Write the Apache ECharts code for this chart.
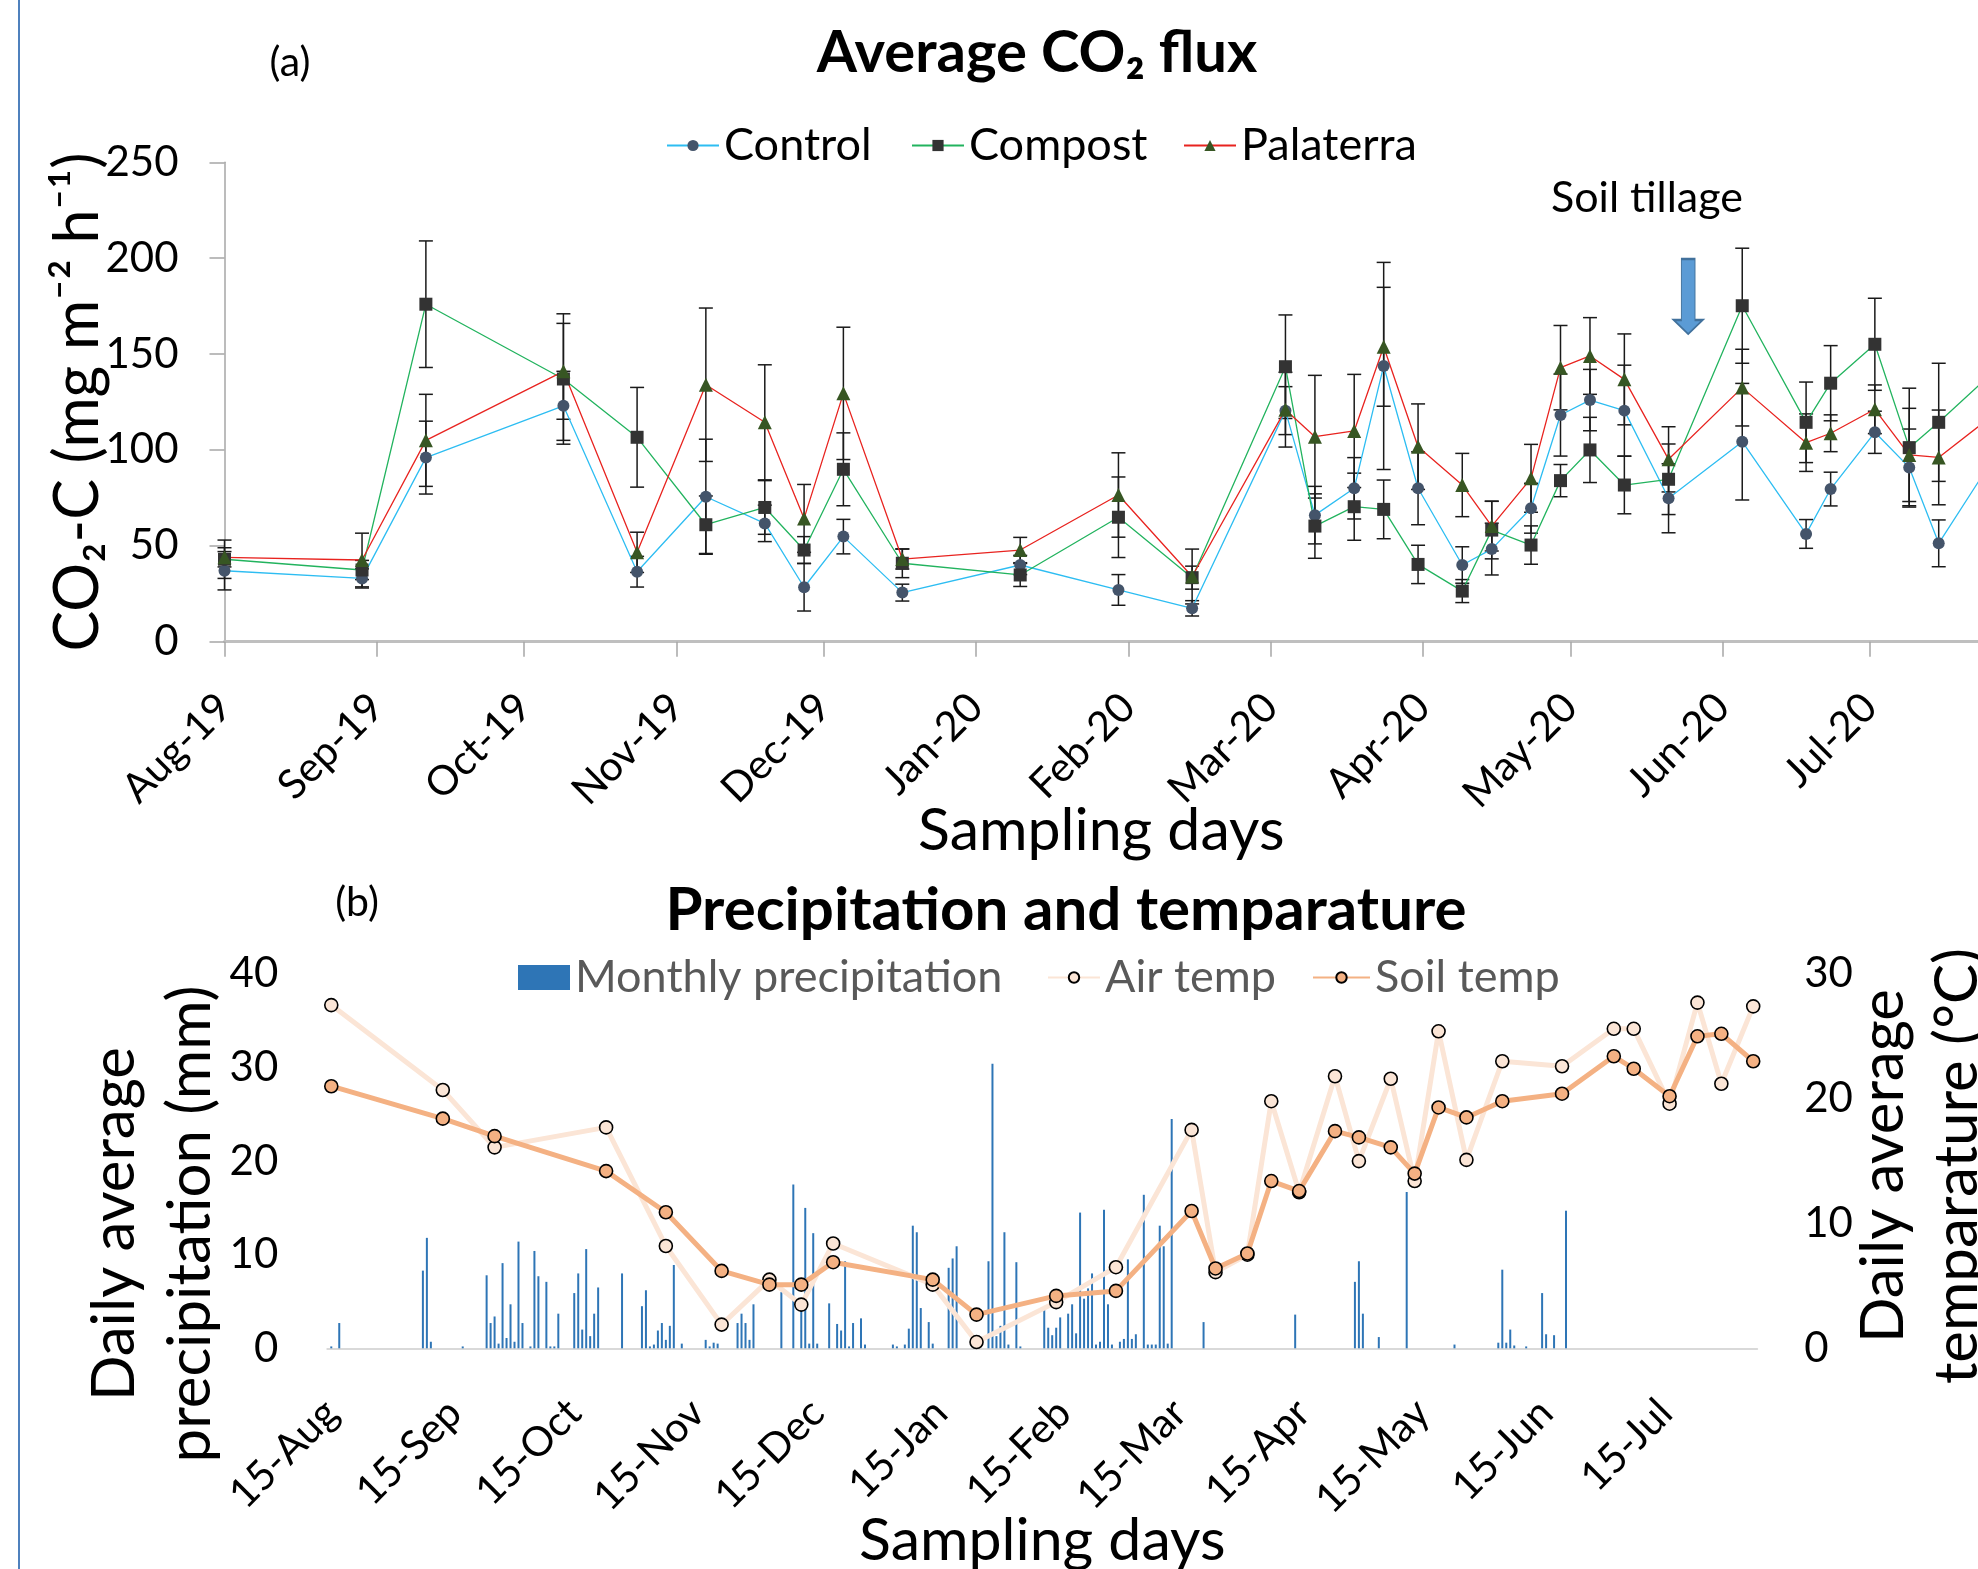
<!DOCTYPE html>
<html>
<head>
<meta charset="utf-8">
<script src="https://cdn.jsdelivr.net/npm/echarts/dist/echarts.min.js"></script>
<style>
html,body{margin:0;padding:0;background:#fff;}
#chart{width:1978px;height:1569px;}
</style>
</head>
<body>
<div id="chart"></div>
<script>
// ---------------- (a) Average CO2 flux ----------------
const fluxDates = ['2019-08-15','2019-09-12','2019-09-25','2019-10-23','2019-11-07','2019-11-21','2019-12-03','2019-12-11','2019-12-19','2019-12-31','2020-01-24','2020-02-13','2020-02-28','2020-03-18','2020-03-24','2020-04-01','2020-04-07','2020-04-14','2020-04-23','2020-04-29','2020-05-07','2020-05-13','2020-05-19','2020-05-26','2020-06-04','2020-06-19','2020-07-02','2020-07-07','2020-07-16','2020-07-23','2020-07-29','2020-08-08'];
const control      = [37, 33, 96, 123, 36.5, 75.6, 61.7, 28.4, 54.8, 25.6, 40, 27, 17.4, 120.5, 66, 80, 143.8, 80, 40, 48.3, 69.6, 118.2, 126, 120.5, 74.8, 104.3, 56.2, 79.6, 109.2, 90.9, 51.3, 91];
const controlErr   = [10, 5, 19, 18, 8, 30, 9.5, 12.4, 9, 4.4, 5, 8, 4, 12.5, 15, 16, 54, 19, 9.5, 13.5, 13, 21.4, 16, 23.7, 18, 30.4, 7.5, 8.8, 11, 20, 12.2, 12];
const compost      = [43, 37.4, 176, 137, 106.6, 61, 70, 47.8, 89.9, 40.9, 34.8, 64.9, 33.4, 143.4, 60.3, 70.4, 69, 40.3, 26.4, 58.2, 50.4, 84, 100, 81.7, 84.7, 175.2, 114.4, 134.8, 155.1, 101.2, 114.4, 138];
const compostErr   = [10, 5, 33, 34, 26, 15, 14, 7, 19, 7.5, 6, 21, 6, 27, 16.8, 17.5, 15.3, 10, 6, 15, 10, 8.4, 17, 15, 18.4, 30, 21, 19.6, 24, 31, 30.8, 20];
const palaterra    = [44, 42.6, 105, 141, 46.6, 134, 114.4, 64.3, 129.5, 43.1, 47.8, 76.5, 34, 121, 106.9, 109.9, 153.8, 101.7, 81.7, 60.3, 85.2, 142.9, 149, 136.8, 95.1, 132.5, 103.8, 108.7, 121.2, 97.4, 96.1, 116];
const palaterraErr = [5, 14, 24, 25, 10.5, 40, 30, 17.7, 34.5, 5.2, 6.6, 22, 14.3, 19.5, 32, 29.5, 31, 22.3, 16.5, 13, 17.7, 22, 20, 23.7, 17, 20, 15, 9.6, 12.7, 24.3, 24.7, 15];
const fluxTickDates  = ['2019-08-15','2019-09-15','2019-10-15','2019-11-15','2019-12-15','2020-01-15','2020-02-15','2020-03-15','2020-04-15','2020-05-15','2020-06-15','2020-07-15'];
const fluxTickLabels = ['Aug-19','Sep-19','Oct-19','Nov-19','Dec-19','Jan-20','Feb-20','Mar-20','Apr-20','May-20','Jun-20','Jul-20'];
const fluxYTicks = [0, 50, 100, 150, 200, 250];
const tillageDate = '2020-06-08';
const tillageLevel = 180;

// ---------------- (b) Precipitation and temperature ----------------
const tempDates = ['2019-08-15','2019-09-12','2019-09-25','2019-10-23','2019-11-07','2019-11-21','2019-12-03','2019-12-11','2019-12-19','2020-01-13','2020-01-24','2020-02-13','2020-02-28','2020-03-18','2020-03-24','2020-04-01','2020-04-07','2020-04-14','2020-04-23','2020-04-29','2020-05-07','2020-05-13','2020-05-19','2020-05-26','2020-06-04','2020-06-19','2020-07-02','2020-07-07','2020-07-16','2020-07-23','2020-07-29','2020-08-06'];
const airTemp  = [27.5, 20.7, 16.1, 17.7, 8.2, 1.9, 5.5, 3.5, 8.4, 5.1, 0.5, 3.7, 6.5, 17.5, 6.1, 7.5, 19.8, 12.5, 21.8, 15.0, 21.6, 13.4, 25.4, 15.1, 23.0, 22.6, 25.6, 25.6, 19.6, 27.7, 21.2, 27.4];
const soilTemp = [21.0, 18.4, 17.0, 14.2, 10.9, 6.2, 5.1, 5.1, 6.9, 5.5, 2.7, 4.2, 4.6, 11.0, 6.4, 7.6, 13.4, 12.6, 17.4, 16.9, 16.1, 14.0, 19.3, 18.5, 19.8, 20.4, 23.4, 22.4, 20.2, 25.0, 25.2, 23.0];
const rainDates = [
 '2019-08-15','2019-08-17',
 '2019-09-07','2019-09-08','2019-09-09','2019-09-17','2019-09-23','2019-09-24','2019-09-25','2019-09-26','2019-09-27','2019-09-28','2019-09-29','2019-09-30',
 '2019-10-01','2019-10-02','2019-10-04','2019-10-05','2019-10-06','2019-10-08','2019-10-09','2019-10-10','2019-10-11','2019-10-15','2019-10-16','2019-10-17','2019-10-18','2019-10-19','2019-10-20','2019-10-21','2019-10-27',
 '2019-11-01','2019-11-02','2019-11-03','2019-11-04','2019-11-05','2019-11-06','2019-11-07','2019-11-08','2019-11-09','2019-11-11','2019-11-17','2019-11-18','2019-11-19','2019-11-20','2019-11-25','2019-11-26','2019-11-27','2019-11-28','2019-11-29',
 '2019-12-06','2019-12-09','2019-12-11','2019-12-12','2019-12-13','2019-12-14','2019-12-15','2019-12-18','2019-12-20','2019-12-21','2019-12-22','2019-12-23','2019-12-24','2019-12-26','2019-12-27',
 '2020-01-03','2020-01-04','2020-01-06','2020-01-07','2020-01-08','2020-01-09','2020-01-10','2020-01-12','2020-01-13','2020-01-17','2020-01-18','2020-01-19','2020-01-27','2020-01-28','2020-01-29','2020-01-30','2020-01-31',
 '2020-02-01','2020-02-03','2020-02-04','2020-02-10','2020-02-11','2020-02-12','2020-02-13','2020-02-14','2020-02-16','2020-02-17','2020-02-18','2020-02-19','2020-02-20','2020-02-21','2020-02-22','2020-02-23','2020-02-24','2020-02-25','2020-02-26','2020-02-27','2020-02-29',
 '2020-03-01','2020-03-02','2020-03-03','2020-03-04','2020-03-06','2020-03-07','2020-03-08','2020-03-09','2020-03-10','2020-03-11','2020-03-12','2020-03-13','2020-03-21',
 '2020-04-13','2020-04-28','2020-04-29','2020-04-30',
 '2020-05-04','2020-05-11','2020-05-23',
 '2020-06-03','2020-06-04','2020-06-05','2020-06-06','2020-06-07','2020-06-10','2020-06-14','2020-06-15','2020-06-17','2020-06-20'];
const rainMm = [
 0.2, 2.7,
 8.3, 11.8, 0.7, 0.2, 7.8, 2.7, 3.4, 0.5, 9.1, 1.1, 4.7, 0.7,
 11.4, 2.7, 0.2, 10.4, 7.7, 7.1, 0.2, 0.2, 3.7, 5.9, 8.0, 2.0, 10.6, 1.3, 3.7, 6.5, 8.0,
 4.5, 6.2, 0.2, 0.4, 1.9, 2.7, 0.9, 2.4, 8.9, 0.5, 0.9, 0.2, 0.6, 0.5, 2.7, 3.7, 2.7, 0.9, 4.7,
 6.0, 17.5, 5.1, 15.0, 0.5, 12.3, 0.5, 4.8, 2.6, 1.9, 9.3, 0.2, 2.7, 3.2, 0.4,
 0.4, 0.2, 0.4, 2.1, 13.1, 12.4, 4.3, 2.8, 0.5, 8.6, 9.6, 10.9, 9.3, 30.4, 1.3, 2.4, 12.4,
 0.4, 9.2, 0.2, 4.1, 2.2, 1.4, 2.2, 3.3, 3.7, 4.7, 1.6, 14.5, 5.3, 6.4, 8.0, 0.4, 0.7, 14.8, 4.7, 0.4, 0.7,
 1.0, 9.5, 1.0, 1.5, 16.4, 0.4, 0.4, 0.4, 13.1, 10.9, 0.5, 24.5, 2.8,
 3.6, 7.1, 9.3, 3.7,
 1.2, 16.7, 0.4,
 0.6, 8.4, 0.6, 2.0, 0.3, 0.2, 5.9, 1.5, 1.4, 14.7];
const climTickDates  = ['2019-08-15','2019-09-15','2019-10-15','2019-11-15','2019-12-15','2020-01-15','2020-02-15','2020-03-15','2020-04-15','2020-05-15','2020-06-15','2020-07-15'];
const climTickLabels = ['15-Aug','15-Sep','15-Oct','15-Nov','15-Dec','15-Jan','15-Feb','15-Mar','15-Apr','15-May','15-Jun','15-Jul'];

// ---------------- helpers ----------------
const DAY = 86400000;
function ts(s) { const p = s.split('-').map(Number); return Date.UTC(p[0], p[1] - 1, p[2]); }
const FONT = 'Lato, "Noto Sans", "DejaVu Sans", sans-serif';
function labelFor(dates, labels) {
  const vals = dates.map(ts);
  return function (v) {
    for (let i = 0; i < vals.length; i++) { if (Math.abs(vals[i] - v) < DAY / 2) return labels[i]; }
    return '';
  };
}
function pairs(dates, vals) { return dates.map((d, i) => [ts(d), vals[i]]); }
function errData(dates, vals, errs) { return dates.map((d, i) => [ts(d), vals[i] - errs[i], vals[i] + errs[i]]); }
function errRender(params, api) {
  const x = api.value(0);
  const lo = api.coord([x, api.value(1)]);
  const hi = api.coord([x, api.value(2)]);
  const w = 7;
  const st = { stroke: '#1a1a1a', lineWidth: 1.5 };
  return { type: 'group', children: [
    { type: 'line', shape: { x1: hi[0], y1: hi[1], x2: lo[0], y2: lo[1] }, style: st },
    { type: 'line', shape: { x1: hi[0] - w, y1: hi[1], x2: hi[0] + w, y2: hi[1] }, style: st },
    { type: 'line', shape: { x1: lo[0] - w, y1: lo[1], x2: lo[0] + w, y2: lo[1] }, style: st }
  ]};
}
function errSeries(name, dates, vals, errs) {
  return { name: name, type: 'custom', xAxisIndex: 0, yAxisIndex: 0, z: 1, silent: true,
    renderItem: errRender, encode: { x: 0, y: [1, 2] }, data: errData(dates, vals, errs) };
}
function legendAt(name, left, top, w, h, size, color, icon) {
  return { data: [icon ? { name: name, icon: icon } : name], left: left, top: top, padding: 0,
    itemWidth: w, itemHeight: h, textStyle: { fontSize: size, color: color, fontFamily: FONT } };
}

const chart = echarts.init(document.getElementById('chart'), null, { renderer: 'canvas' });

const option = {
  animation: false,
  backgroundColor: '#ffffff',
  textStyle: { fontFamily: FONT },
  grid: [
    { left: 224.5, right: 0, top: 162.3, bottom: 927.3, containLabel: false, outerBoundsMode: 'none' },
    { left: 327.3, right: 220.8, top: 973.9, bottom: 220.7, containLabel: false, outerBoundsMode: 'none' }
  ],
  legend: [
    legendAt('Control', 666, 123, 52, 14, 45, '#000'),
    legendAt('Compost', 911, 123, 52, 14, 45, '#000'),
    legendAt('Palaterra', 1183, 123, 52, 14, 45, '#000'),
    legendAt('Monthly precipitation', 518, 955, 52, 25, 45, '#595959', 'rect'),
    legendAt('Air temp', 1047, 955, 52, 13, 45, '#595959'),
    legendAt('Soil temp', 1312, 955, 57, 13, 45, '#595959')
  ],
  xAxis: [
    { type: 'value', gridIndex: 0, min: ts('2019-08-15'), max: ts('2020-08-06'),
      name: 'Sampling days', nameLocation: 'middle', nameGap: 160, nameMoveOverlap: false,
      nameTextStyle: { fontSize: 59, color: '#000', fontFamily: FONT },
      axisLine: { show: true, onZero: false, lineStyle: { color: '#bfbfbf', width: 3 } },
      axisTick: { show: true, inside: false, length: 15, customValues: fluxTickDates.map(ts), lineStyle: { color: '#a6a6a6', width: 1.5 } },
      axisLabel: { show: true, rotate: 45, margin: 59, fontSize: 41, color: '#000', fontFamily: FONT,
        customValues: fluxTickDates.map(ts), formatter: labelFor(fluxTickDates, fluxTickLabels) },
      splitLine: { show: false } },
    { type: 'value', gridIndex: 1, min: ts('2019-08-14'), max: ts('2020-08-07'),
      name: 'Sampling days', nameLocation: 'middle', nameGap: 163, nameMoveOverlap: false,
      nameTextStyle: { fontSize: 59, color: '#000', fontFamily: FONT },
      axisLine: { show: true, onZero: false, lineStyle: { color: '#d9d9d9', width: 2 } },
      axisTick: { show: false, customValues: climTickDates.map(ts) },
      axisLabel: { show: true, rotate: 45, margin: 58, fontSize: 41, color: '#000', fontFamily: FONT,
        customValues: climTickDates.map(ts), formatter: labelFor(climTickDates, climTickLabels) },
      splitLine: { show: false } }
  ],
  yAxis: [
    { type: 'value', gridIndex: 0, min: fluxYTicks[0], max: fluxYTicks[fluxYTicks.length - 1], interval: 50,
      name: 'CO\u2082-C (mg m\u207B\u00B2 h\u207B\u00B9)', nameLocation: 'middle', nameGap: 116, nameRotate: 90, nameMoveOverlap: false,
      nameTextStyle: { fontSize: 61, color: '#000', fontFamily: FONT },
      axisLine: { show: true, lineStyle: { color: '#a6a6a6', width: 1.5 } },
      axisTick: { show: true, inside: false, length: 15, lineStyle: { color: '#a6a6a6', width: 1.5 } },
      axisLabel: { fontSize: 42, color: '#000', margin: 46, fontFamily: FONT },
      splitLine: { show: false } },
    { type: 'value', gridIndex: 1, position: 'left', min: 0, max: 40, interval: 10,
      axisLine: { show: false }, axisTick: { show: false },
      axisLabel: { fontSize: 42, color: '#000', margin: 49, fontFamily: FONT },
      splitLine: { show: false } },
    { type: 'value', gridIndex: 1, position: 'right', min: 0, max: 30, interval: 10,
      axisLine: { show: false }, axisTick: { show: false },
      axisLabel: { fontSize: 42, color: '#000', margin: 47, fontFamily: FONT },
      splitLine: { show: false } }
  ],
  series: [
    { name: 'Control', type: 'line', xAxisIndex: 0, yAxisIndex: 0, z: 3, data: pairs(fluxDates, control),
      symbol: 'circle', symbolSize: 12, itemStyle: { color: '#44546a' },
      lineStyle: { color: '#2dbdf2', width: 1.3 } },
    { name: 'Compost', type: 'line', xAxisIndex: 0, yAxisIndex: 0, z: 3, data: pairs(fluxDates, compost),
      symbol: 'rect', symbolSize: 13, itemStyle: { color: '#333333' },
      lineStyle: { color: '#22b35e', width: 1.3 },
      markPoint: { silent: true, symbol: 'path://M7.7,0 L21.3,0 L21.3,61 L29,61 L14.5,75 L0,61 L7.7,61 Z',
        symbolSize: [29, 75], label: { show: false },
        itemStyle: { color: '#5b9bd5', borderColor: '#41719c', borderWidth: 1.5 },
        data: [{ coord: [ts(tillageDate), tillageLevel] }] } },
    { name: 'Palaterra', type: 'line', xAxisIndex: 0, yAxisIndex: 0, z: 3, data: pairs(fluxDates, palaterra),
      symbol: 'triangle', symbolSize: 14, itemStyle: { color: '#375623' },
      lineStyle: { color: '#e8231f', width: 1.3 } },
    errSeries('Control', fluxDates, control, controlErr),
    errSeries('Compost', fluxDates, compost, compostErr),
    errSeries('Palaterra', fluxDates, palaterra, palaterraErr),
    { name: 'Monthly precipitation', type: 'bar', xAxisIndex: 1, yAxisIndex: 1, barWidth: 2,
      itemStyle: { color: '#2e75b6' }, data: pairs(rainDates, rainMm) },
    { name: 'Air temp', type: 'line', xAxisIndex: 1, yAxisIndex: 2, z: 3, data: pairs(tempDates, airTemp),
      symbol: 'circle', symbolSize: 13, itemStyle: { color: '#fbe5d6', borderColor: '#000', borderWidth: 1.6 },
      lineStyle: { color: '#fbe5d6', width: 5 } },
    { name: 'Soil temp', type: 'line', xAxisIndex: 1, yAxisIndex: 2, z: 4, data: pairs(tempDates, soilTemp),
      symbol: 'circle', symbolSize: 13, itemStyle: { color: '#f4b183', borderColor: '#000', borderWidth: 1.6 },
      lineStyle: { color: '#f4b183', width: 5 } }
  ],
  graphic: [
    { type: 'line', shape: { x1: 19, y1: 0, x2: 19, y2: 1569 }, style: { stroke: '#4f81bd', lineWidth: 2 }, silent: true },
    { type: 'text', x: 290, y: 63, style: { text: '(a)', align: 'center', verticalAlign: 'middle', fontSize: 41, fontFamily: FONT, fill: '#000' } },
    { type: 'text', x: 1037, y: 53, style: { text: 'Average CO\u2082 flux', align: 'center', verticalAlign: 'middle', fontSize: 58, fontWeight: 'bold', fontFamily: FONT, fill: '#000' } },
    { type: 'text', x: 1647, y: 198, style: { text: 'Soil tillage', align: 'center', verticalAlign: 'middle', fontSize: 43, fontFamily: FONT, fill: '#000' } },
    { type: 'text', x: 357, y: 903, style: { text: '(b)', align: 'center', verticalAlign: 'middle', fontSize: 41, fontFamily: FONT, fill: '#000' } },
    { type: 'text', x: 1066, y: 911, style: { text: 'Precipitation and temparature', align: 'center', verticalAlign: 'middle', fontSize: 60, fontWeight: 'bold', fontFamily: FONT, fill: '#000' } },
    { type: 'text', x: 153, y: 1224, rotation: Math.PI / 2, style: { text: 'Daily average\nprecipitation (mm)', align: 'center', verticalAlign: 'middle', fontSize: 60, lineHeight: 76, fontFamily: FONT, fill: '#000' } },
    { type: 'text', x: 1921, y: 1166, rotation: Math.PI / 2, style: { text: 'Daily average\ntemparature (\u00B0C)', align: 'center', verticalAlign: 'middle', fontSize: 60, lineHeight: 74, fontFamily: FONT, fill: '#000' } }
  ]
};
chart.setOption(option);
</script>
</body>
</html>
